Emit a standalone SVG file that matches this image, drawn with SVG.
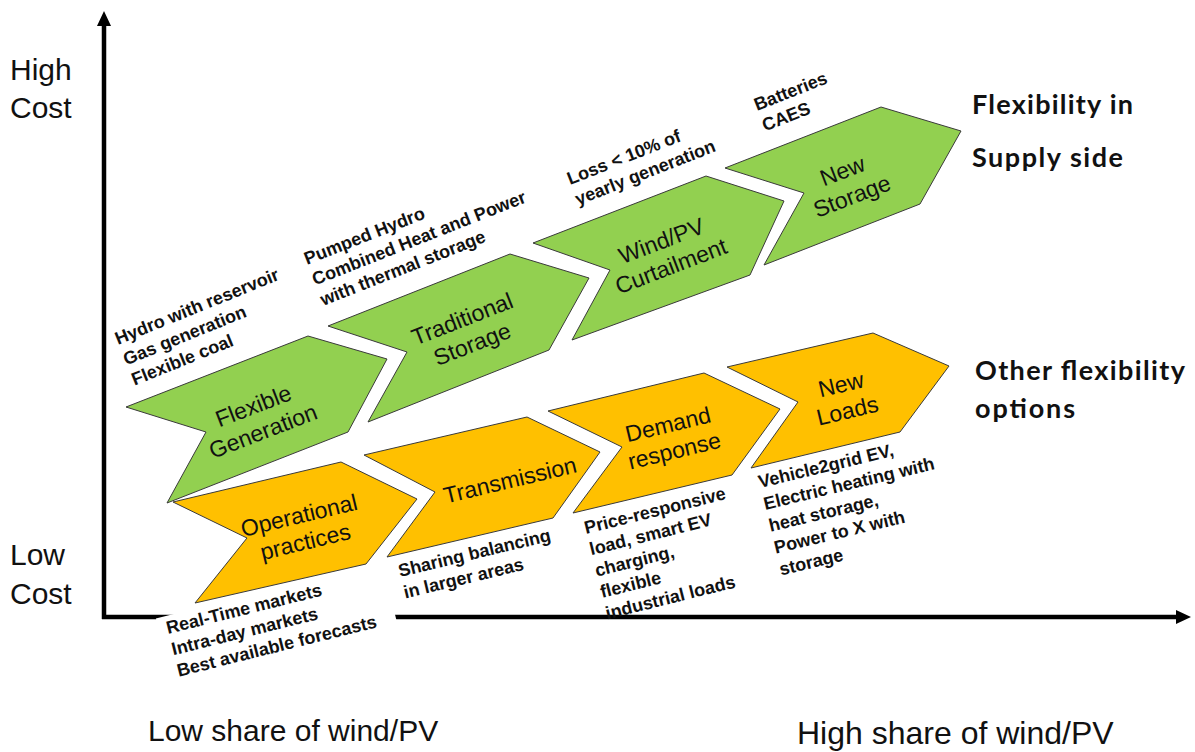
<svg xmlns="http://www.w3.org/2000/svg" width="1195" height="752" viewBox="0 0 1195 752">
<style>
.g{fill:#92D050;stroke:#3a3a3a;stroke-width:1}
.o{fill:#FFC000;stroke:#3a3a3a;stroke-width:1}
.lbl{font-family:"Liberation Sans",Arial,sans-serif;font-size:23px;fill:#111;text-anchor:middle}
.ann{font-family:"Liberation Sans",Arial,sans-serif;font-size:18px;font-weight:bold;fill:#111}
.ax{font-family:"Liberation Sans",Arial,sans-serif;font-size:30px;fill:#111}
.side{font-family:Lato,"Liberation Sans",sans-serif;font-size:27px;font-weight:bold;fill:#111}
</style>
<rect width="1195" height="752" fill="#fff"/>
<g id="connectors">
<line x1="104" y1="619" x2="104" y2="24" stroke="#000" stroke-width="4.5"/>
<polygon points="104,11 97,26 111,26" fill="#000"/>
<line x1="102" y1="617" x2="1178" y2="617" stroke="#000" stroke-width="4.5"/>
<polygon points="1191,617 1176,610 1176,624" fill="#000"/>
</g>
<g id="axis-labels">
<text class="ax" x="10" y="80">High</text>
<text class="ax" x="10" y="118">Cost</text>
<text class="ax" x="10" y="565">Low</text>
<text class="ax" x="10" y="604">Cost</text>
<text class="ax" x="148" y="741">Low share of wind/PV</text>
<text class="ax" x="797" y="744" style="font-size:32px">High share of wind/PV</text>
</g>
<g id="ann-operational" transform="translate(168,634) rotate(-14)">
<rect x="-8" y="-18" width="233" height="70" fill="#fff"/>
<text class="ann"><tspan x="0" y="0">Real-Time markets</tspan><tspan x="0" y="22">Intra-day markets</tspan><tspan x="0" y="44">Best available forecasts</tspan></text>
</g>
<g id="flexible-generation">
<polygon class="g" points="126,407 308,336 387,359 348,432 167,503 206,432"/>
<text class="lbl" transform="translate(258,418) rotate(-21)"><tspan x="0" y="-5">Flexible</tspan><tspan x="0" y="22">Generation</tspan></text>
</g>
<g id="traditional-storage">
<polygon class="g" points="328,326 510,254 589,278 549,350 368,422 407,352"/>
<text class="lbl" transform="translate(467,331) rotate(-21.5)"><tspan x="0" y="-5">Traditional</tspan><tspan x="0" y="22">Storage</tspan></text>
</g>
<g id="wind-pv-curtailment">
<polygon class="g" points="533,243 706,176 784,201 750,275 572,340 610,270"/>
<text class="lbl" transform="translate(666,253) rotate(-21)"><tspan x="0" y="-5">Wind/PV</tspan><tspan x="0" y="22">Curtailment</tspan></text>
</g>
<g id="new-storage">
<polygon class="g" points="725,168 881,107 961,131 920,204 764,265 804,193"/>
<text class="lbl" transform="translate(847,183) rotate(-21)"><tspan x="0" y="-5">New</tspan><tspan x="0" y="22">Storage</tspan></text>
</g>
<g id="operational-practices">
<polygon class="o" points="173,502 341,462 417,499 366,564 195,603 247,538"/>
<text class="lbl" transform="translate(302,528) rotate(-13.5)"><tspan x="0" y="-5">Operational</tspan><tspan x="0" y="22">practices</tspan></text>
</g>
<g id="transmission">
<polygon class="o" points="364,455 527,417 600,452 553,518 387,557 435,492"/>
<text class="lbl" transform="translate(510,480) rotate(-13.5)"><tspan x="0" y="8">Transmission</tspan></text>
</g>
<g id="demand-response">
<polygon class="o" points="548,411 704,373 780,409 732,475 573,513 622,447"/>
<text class="lbl" transform="translate(671,437) rotate(-13.5)"><tspan x="0" y="-5">Demand</tspan><tspan x="0" y="22">response</tspan></text>
</g>
<g id="new-loads">
<polygon class="o" points="727,367 873,333 949,366 900,432 751,468 798,402"/>
<text class="lbl" transform="translate(844,397) rotate(-13.5)"><tspan x="0" y="-5">New</tspan><tspan x="0" y="22">Loads</tspan></text>
</g>
<g id="ann-flexgen" transform="translate(118,345) rotate(-22)">
<text class="ann"><tspan x="0" y="0">Hydro with reservoir</tspan><tspan x="0" y="22">Gas generation</tspan><tspan x="0" y="44">Flexible coal</tspan></text>
</g>
<g id="ann-tradstorage" transform="translate(307,265) rotate(-21.5)">
<text class="ann"><tspan x="0" y="0">Pumped Hydro</tspan><tspan x="0" y="22">Combined Heat and Power</tspan><tspan x="0" y="44">with thermal storage</tspan></text>
</g>
<g id="ann-curtail" transform="translate(570,185) rotate(-21.5)">
<text class="ann"><tspan x="0" y="0">Loss &lt; 10% of</tspan><tspan x="0" y="22">yearly generation</tspan></text>
</g>
<g id="ann-newstorage" transform="translate(757,111) rotate(-21.5)">
<text class="ann"><tspan x="0" y="0">Batteries</tspan><tspan x="0" y="22">CAES</tspan></text>
</g>
<g id="ann-transmission" transform="translate(400,577) rotate(-13.5)">
<text class="ann"><tspan x="0" y="0">Sharing balancing</tspan><tspan x="0" y="22">in larger areas</tspan></text>
</g>
<g id="ann-demand" transform="translate(586,534) rotate(-14)">
<text class="ann"><tspan x="0" y="0">Price-responsive</tspan><tspan x="0" y="22">load, smart EV</tspan><tspan x="0" y="44">charging,</tspan><tspan x="0" y="66">flexible</tspan><tspan x="0" y="88">industrial loads</tspan></text>
</g>
<g id="ann-newloads" transform="translate(760,488) rotate(-13.5)">
<text class="ann"><tspan x="0" y="0">Vehicle2grid EV,</tspan><tspan x="0" y="22.5">Electric heating with</tspan><tspan x="0" y="45">heat storage,</tspan><tspan x="0" y="67.5">Power to X with</tspan><tspan x="0" y="90">storage</tspan></text>
</g>
<g id="side-labels">
<text class="side" x="972" y="114" textLength="161">Flexibility in</text>
<text class="side" x="972" y="167" textLength="151">Supply side</text>
<text class="side" x="975" y="380" textLength="210">Other flexibility</text>
<text class="side" x="975" y="418" textLength="100">options</text>
</g>
</svg>
